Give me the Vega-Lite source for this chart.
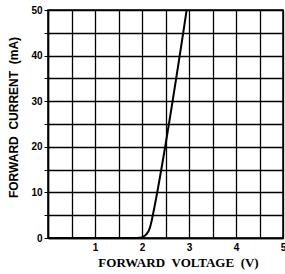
{
  "$schema": "https://vega.github.io/schema/vega-lite/v6.json",
  "width": 235,
  "height": 228,
  "autosize": {"type": "none"},
  "padding": {"left": 48, "top": 10, "right": 2, "bottom": 36},
  "background": "white",
  "config": {
    "view": {"stroke": "black", "strokeWidth": 1.5},
    "axis": {
      "gridColor": "black",
      "gridOpacity": 1,
      "gridWidth": 1.3,
      "domainColor": "black",
      "domainWidth": 1.5,
      "tickColor": "black",
      "labelColor": "black",
      "titleColor": "black",
      "labelFont": "Liberation Sans",
      "labelFontWeight": "bold",
      "labelFontSize": 10
    }
  },
  "data": {
    "values": [
      {"v": 0, "i": 0},
      {"v": 1.85, "i": 0},
      {"v": 1.95, "i": 0.05},
      {"v": 2.03, "i": 0.3},
      {"v": 2.1, "i": 0.9},
      {"v": 2.16, "i": 2.0},
      {"v": 2.2, "i": 3.5},
      {"v": 2.23, "i": 5.0},
      {"v": 2.95, "i": 50}
    ]
  },
  "mark": {"type": "line", "color": "black", "strokeWidth": 2, "clip": true, "interpolate": "monotone"},
  "encoding": {
    "x": {
      "field": "v",
      "type": "quantitative",
      "scale": {"domain": [0, 5], "nice": false, "zero": false},
      "axis": {
        "title": "FORWARD\u00a0\u00a0VOLTAGE\u00a0\u00a0(V)",
        "titleFont": "Liberation Serif",
        "titleFontWeight": "bold",
        "titleFontSize": 13,
        "titlePadding": 4,
        "titleX": 130,
        "values": [0, 0.5, 1, 1.5, 2, 2.5, 3, 3.5, 4, 4.5, 5],
        "labelExpr": "datum.value > 0 && datum.value % 1 == 0 ? datum.value : ''",
        "ticks": false,
        "labelPadding": 4,
        "labelFlush": false,
        "labelOverlap": false
      }
    },
    "y": {
      "field": "i",
      "type": "quantitative",
      "scale": {"domain": [0, 50], "nice": false},
      "axis": {
        "title": "FORWARD\u00a0\u00a0CURRENT\u00a0\u00a0(mA)",
        "titleFont": "Liberation Sans",
        "titleFontWeight": "bold",
        "titleFontSize": 12,
        "titlePadding": 10,
        "titleY": 107,
        "values": [0, 5, 10, 15, 20, 25, 30, 35, 40, 45, 50],
        "labelExpr": "datum.value % 10 == 0 ? datum.value : ''",
        "tickSize": 4,
        "labelPadding": 2,
        "labelFlush": false,
        "labelOverlap": false
      }
    }
  }
}
